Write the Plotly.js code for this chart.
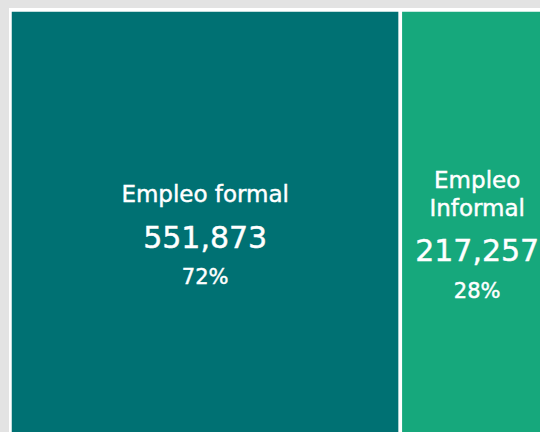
<!DOCTYPE html>
<html>
<head>
<meta charset="utf-8">
<script src="https://cdn.plot.ly/plotly-3.0.1.min.js"></script>
<style>
  html, body { margin: 0; padding: 0; overflow: hidden; background: #e3e3e3; width: 540px; height: 432px; }
  #chart { position: absolute; left: 9px; top: 8px; width: 548px; height: 454px; }
</style>
</head>
<body>
<div id="chart"></div>
<script>
// Data
const labels = ["Empleo formal", "Empleo Informal"];
const parents = ["", ""];
const values = [551873, 217257];
const labelLines = [["Empleo formal"], ["Empleo", "Informal"]];
const tileColors = ["#007173", "#16a87c"];

const total = values.reduce((a, b) => a + b, 0);
const percents = values.map(v => Math.round(v / total * 100) + "%");

const ST = 'stroke:#ffffff;stroke-width:0.45px;';
function buildTemplate(i) {
  const lines = labelLines[i].map(t => '<span style="font-size:23px;' + ST + '">' + t + '</span>');
  let s = lines.join('<br><br><br>');
  s += '<br><br><br><br><br>' + '<span style="font-size:30px;' + ST + '">%{value:,}</span>';
  s += '<br><br><br><br>' + '<span style="font-size:21px;' + ST + '">' + percents[i] + '</span>';
  return s;
}
const templates = labels.map((_, i) => buildTemplate(i));

const trace = {
  type: "treemap",
  labels: labels,
  parents: parents,
  values: values,
  branchvalues: "total",
  sort: false,
  texttemplate: templates,
  textposition: "middle center",
  textfont: { family: "DejaVu Sans, sans-serif", size: 7, color: "#ffffff" },
  marker: { colors: tileColors, line: { color: "#ffffff", width: 3.5 }, pad: { t: 0, l: 0, r: 0, b: 0 } },
  tiling: { pad: 0 },
  pathbar: { visible: false },
  hoverinfo: "label+value"
};

const layout = {
  width: 548,
  height: 454,
  margin: { l: 1, r: 3, t: 2, b: 2, pad: 0 },
  paper_bgcolor: "#ffffff",
  plot_bgcolor: "#ffffff",
  showlegend: false
};

Plotly.newPlot("chart", [trace], layout, { displayModeBar: false, staticPlot: true });
</script>
</body>
</html>
